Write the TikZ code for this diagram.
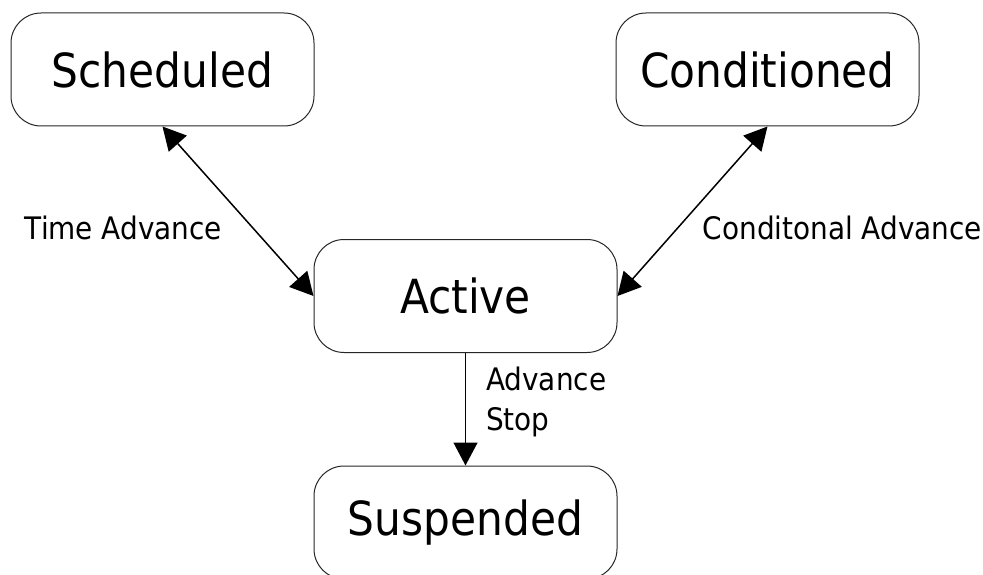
\documentclass[tikz,border=0pt]{standalone}
\usepackage{fontspec}
\setmainfont{DejaVu Sans Condensed}
\usetikzlibrary{arrows.meta}

\tikzset{
  state/.style={draw=black!85, line width=1pt, rounded corners=30pt,
    minimum width=303pt, minimum height=113pt, inner sep=0pt,
    font=\fontsize{47}{56}\selectfont},
  lbl/.style={inner sep=0pt, font=\fontsize{31}{40}\selectfont},
  trans/.style={line width=1.5pt, black},
  tip/.style={-{Triangle[length=23pt,width=24pt]}},
  bitip/.style={{Triangle[length=23pt,width=24pt]}-{Triangle[length=23pt,width=24pt]}},
}

\begin{document}
\begin{tikzpicture}[x=1pt, y=-1pt]
  \useasboundingbox (0,0) rectangle (983,575);

  % states
  \node[state] (sch)  at (162.5, 69.5)  {Scheduled};
  \node[state] (cond) at (767.5, 69.5)  {Conditioned};
  \node[state] (act)  at (465.5, 296)   {Active};
  \node[state] (sus)  at (465.5, 522.5) {Suspended};

  % transitions
  \draw[trans, bitip] (sch.south) -- (act.west);
  \draw[trans, bitip] (cond.south) -- (act.east);
  \draw[trans, tip] (act.south) -- (sus.north);

  % transition labels
  \node[lbl] (lt) at (123.5, 228) {Time Advance};
  \node[lbl] (lc) at (842.5, 228) {Conditonal Advance};
  \node[lbl, anchor=west, align=left] (ls) at (486, 402) {Advance\\Stop};
\end{tikzpicture}
\end{document}
